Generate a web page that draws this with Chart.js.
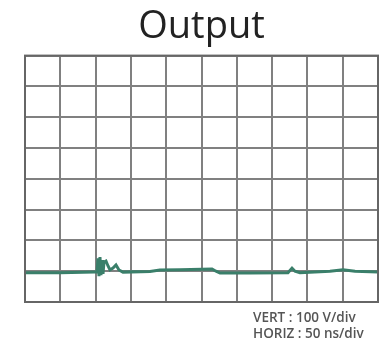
<!DOCTYPE html>
<html>
<head>
<meta charset="utf-8">
<script src="https://cdn.jsdelivr.net/npm/chart.js@4.4.1/dist/chart.umd.min.js"></script>
<style>
  html, body { margin: 0; padding: 0; background: #ffffff; }
  #wrap { width: 386px; height: 344px; position: relative; }
</style>
</head>
<body>
<div id="wrap"><canvas id="scope"></canvas></div>
<script>
// Oscilloscope capture: time in ns, amplitude in V
const timeNs = [0, 49.6, 99.2, 102.0, 103.4, 104.8, 106.2, 107.6, 109.1, 110.5, 111.9, 114.7, 117.6, 120.4, 124.6, 128.9, 133.1, 138.8, 177, 191, 219.5, 264.9, 270.5, 276.2, 318.7, 372.5, 378.2, 382.4, 389.5, 432, 450.4, 467.4, 500];
const voltsV = [95, 95, 97, 97, 142, 84, 146, 87, 136, 91, 130, 133, 117, 104, 110, 120, 104, 97, 99, 104, 105, 107, 100, 94, 94, 95, 110, 100, 95, 100, 105, 100, 97];

const titleText = 'Output';
const scaleNotes = ['VERT : 100 V/div', 'HORIZ : 50 ns/div'];

// Screen: 10 horizontal divisions x 8 vertical divisions
const xMin = 0, xMax = 500, xStep = 50;
const yMin = 0, yMax = 800, yStep = 100;

const points = timeNs.map((t, i) => ({ x: t, y: voltsV[i] }));

const notesPlugin = {
  id: 'scaleNotes',
  afterDraw(chart) {
    const { ctx, chartArea } = chart;
    ctx.save();
    ctx.fillStyle = '#555555';
    ctx.font = '600 13.5px "Open Sans", sans-serif';
    ctx.textBaseline = 'middle';
    ctx.textAlign = 'left';
    const x0 = chartArea.left + 228;
    ctx.fillText(scaleNotes[0], x0, chartArea.bottom + 16);
    ctx.fillText(scaleNotes[1], x0, chartArea.bottom + 32);
    ctx.restore();
  }
};

new Chart(document.getElementById('scope'), {
  type: 'line',
  data: {
    datasets: [{
      data: points,
      borderColor: '#3a7f6a',
      borderWidth: 3,
      pointRadius: 0,
      tension: 0,
      fill: false
    }]
  },
  options: {
    responsive: true,
    maintainAspectRatio: false,
    animation: false,
    layout: { padding: { left: 25, right: 8, top: 0, bottom: 42 } },
    plugins: {
      legend: { display: false },
      tooltip: { enabled: false },
      title: {
        display: true,
        text: titleText,
        color: '#222222',
        font: { family: '"Open Sans", sans-serif', size: 38, weight: '400' },
        padding: { top: 4, bottom: 6 }
      }
    },
    scales: {
      x: {
        type: 'linear',
        min: xMin, max: xMax,
        ticks: { display: false, stepSize: xStep },
        grid: { color: '#808080', lineWidth: 2, drawTicks: false },
        border: { display: true, color: '#666666', width: 2 }
      },
      y: {
        type: 'linear',
        min: yMin, max: yMax,
        ticks: { display: false, stepSize: yStep },
        grid: { color: '#808080', lineWidth: 2, drawTicks: false },
        border: { display: true, color: '#666666', width: 2 }
      }
    }
  },
  plugins: [notesPlugin, {
    id: 'frame',
    afterDatasetsDraw(chart) {
      const { ctx, chartArea } = chart;
      ctx.save();
      ctx.strokeStyle = '#666666';
      ctx.lineWidth = 2;
      ctx.strokeRect(chartArea.left, chartArea.top, chartArea.right - chartArea.left, chartArea.bottom - chartArea.top);
      ctx.restore();
    }
  }]
});
</script>
</body>
</html>
